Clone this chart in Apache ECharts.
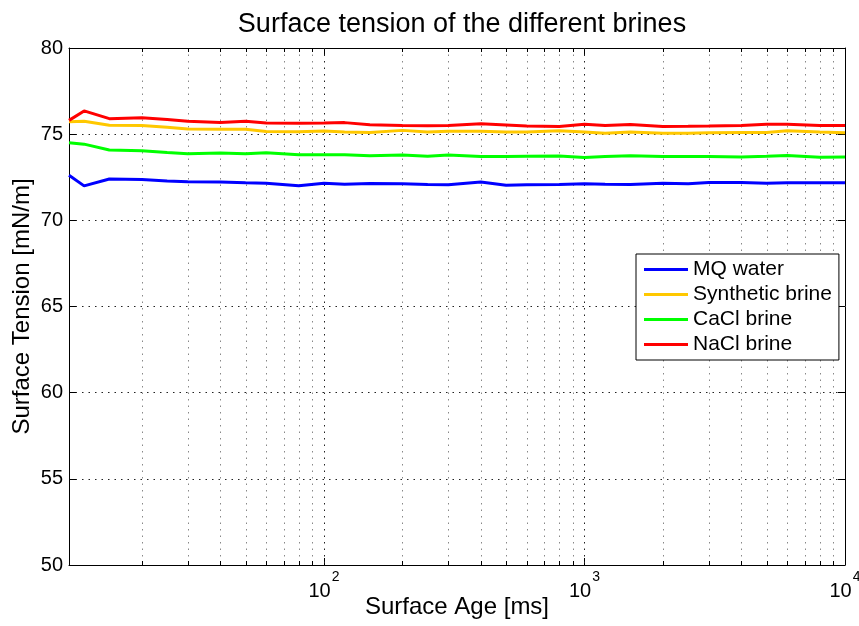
<!DOCTYPE html>
<html>
<head>
<meta charset="utf-8">
<script src="https://cdn.jsdelivr.net/npm/echarts@6/dist/echarts.min.js"></script>
<style>
html, body { margin: 0; padding: 0; background: #fff; }
#main { width: 859px; height: 626px; }
</style>
</head>
<body>
<div id="main"></div>
<script>
// surface age [ms]
var ages = [10.5, 12, 15, 20, 25, 30, 40, 50, 60, 80, 100, 120, 150, 200, 250, 300, 400, 500, 600, 800,
            1000, 1200, 1500, 2000, 2500, 3000, 4000, 5000, 6000, 8000, 10000];
// surface tension [mN/m]
var mqWater   = [72.62, 72.0, 72.4, 72.37, 72.28, 72.24, 72.22, 72.18, 72.15, 72.0, 72.15, 72.1, 72.14, 72.12, 72.08, 72.06,
                 72.22, 72.04, 72.06, 72.08, 72.12, 72.1, 72.08, 72.15, 72.12, 72.2, 72.2, 72.15, 72.18, 72.18, 72.18];
var synthetic = [75.72, 75.75, 75.52, 75.5, 75.4, 75.3, 75.28, 75.28, 75.15, 75.14, 75.18, 75.12, 75.1, 75.22, 75.12, 75.17,
                 75.17, 75.13, 75.13, 75.2, 75.12, 75.05, 75.12, 75.06, 75.06, 75.08, 75.1, 75.1, 75.2, 75.12, 75.08];
var cacl      = [74.5, 74.42, 74.08, 74.04, 73.93, 73.87, 73.9, 73.86, 73.92, 73.8, 73.8, 73.8, 73.75, 73.79, 73.72, 73.79,
                 73.7, 73.7, 73.72, 73.73, 73.65, 73.7, 73.75, 73.7, 73.7, 73.7, 73.68, 73.72, 73.76, 73.66, 73.68];
var nacl      = [75.8, 76.35, 75.9, 75.95, 75.85, 75.75, 75.68, 75.75, 75.65, 75.63, 75.65, 75.67, 75.55, 75.5, 75.49, 75.5,
                 75.6, 75.53, 75.47, 75.45, 75.58, 75.5, 75.56, 75.45, 75.46, 75.47, 75.5, 75.58, 75.58, 75.5, 75.5];

var seriesNames = ['MQ water', 'Synthetic brine', 'CaCl brine', 'NaCl brine'];
var seriesColors = ['#0000ff', '#ffc800', '#00ff00', '#ff0000'];
var seriesValues = [mqWater, synthetic, cacl, nacl];

// grid lines of the log axis (minor + decades)
var gridTicks = [20, 30, 40, 50, 60, 70, 80, 90, 100, 200, 300, 400, 500, 600, 700, 800, 900, 1000,
                 2000, 3000, 4000, 5000, 6000, 7000, 8000, 9000];

var fontName = 'Liberation Sans';
var myChart = echarts.init(document.getElementById('main'));

function pairs(vals) {
    return ages.map(function (a, i) { return [a, vals[i]]; });
}

function xLabel(v) {
    var e = Math.round(Math.log(v) / Math.LN10);
    return '{b|10}{s|' + e + '}';
}

var series = seriesNames.map(function (name, i) {
    return {
        name: name,
        type: 'line',
        data: pairs(seriesValues[i]),
        showSymbol: false,
        symbol: 'none',
        lineStyle: { width: 3, color: seriesColors[i] },
        itemStyle: { color: seriesColors[i] },
        z: 3
    };
});

series.unshift({
    type: 'custom',
    silent: true,
    z: 1,
    data: gridTicks.map(function (v) { return [v, 80]; }),
    encode: { x: 0, y: 1 },
    renderItem: function (params, api) {
        var v = api.value(0);
        var x = Math.round(api.coord([v, 80])[0]) + 0.5;
        var cs = params.coordSys;
        var yt = cs.y, yb = cs.y + cs.height;
        var decade = (v === 100 || v === 1000);
        var kids = [{
            type: 'line',
            shape: { x1: x, y1: yt, x2: x, y2: yb },
            style: { stroke: decade ? '#222' : '#888', lineWidth: 1, lineDash: [1.5, 5] }
        }];
        if (!decade) {
            kids.push({ type: 'line', shape: { x1: x, y1: yb, x2: x, y2: yb - 4 }, style: { stroke: '#000', lineWidth: 1 } });
            kids.push({ type: 'line', shape: { x1: x, y1: yt, x2: x, y2: yt + 4 }, style: { stroke: '#000', lineWidth: 1 } });
        }
        return { type: 'group', children: kids };
    }
});

var option = {
    backgroundColor: '#fff',
    animation: false,
    title: {
        text: 'Surface tension of the different brines',
        left: 457,
        textAlign: 'center',
        top: 6,
        textStyle: { fontFamily: fontName, fontSize: 27, fontWeight: 'normal', color: '#000' }
    },
    legend: {
        data: seriesNames,
        orient: 'vertical',
        left: 636,
        top: 254,
        icon: 'rect',
        itemWidth: 44,
        itemHeight: 3,
        itemGap: 4,
        padding: [5, 7, 5, 8],
        borderColor: '#000',
        borderWidth: 1,
        backgroundColor: '#fff',
        textStyle: { fontFamily: fontName, fontSize: 21, color: '#000', lineHeight: 21 }
    },
    grid: { left: 69, right: 14, top: 48, bottom: 61, containLabel: false, outerBoundsMode: 'none' },
    xAxis: [{
        type: 'log',
        logBase: 10,
        min: 10.5,
        max: 10000,
        name: 'Surface Age [ms]',
        nameLocation: 'middle',
        nameGap: 30,
        nameMoveOverlap: false,
        nameTextStyle: { fontFamily: fontName, fontSize: 24, color: '#000' },
        axisLine: { show: true, lineStyle: { color: '#000', width: 1 } },
        axisTick: { show: true, inside: true, length: 7, lineStyle: { color: '#000' } },
        axisLabel: {
            showMinLabel: false,
            margin: 5,
            formatter: xLabel,
            rich: {
                b: { fontFamily: fontName, fontSize: 20, lineHeight: 31, color: '#000', verticalAlign: 'bottom' },
                s: { fontFamily: fontName, fontSize: 14, lineHeight: 14, color: '#000', verticalAlign: 'top', padding: [0, 0, 0, 1] }
            }
        },
        splitLine: { show: false }
    }, {
        type: 'log',
        logBase: 10,
        min: 10.5,
        max: 10000,
        position: 'top',
        axisLine: { show: true, lineStyle: { color: '#000', width: 1 } },
        axisTick: { show: true, inside: true, length: 7, lineStyle: { color: '#000' } },
        axisLabel: { show: false },
        splitLine: { show: false }
    }],
    yAxis: [{
        type: 'value',
        min: 50,
        max: 80,
        interval: 5,
        name: 'Surface Tension [mN/m]',
        nameLocation: 'middle',
        nameGap: 35,
        nameMoveOverlap: false,
        nameTextStyle: { fontFamily: fontName, fontSize: 24, color: '#000' },
        axisLine: { show: true, lineStyle: { color: '#000', width: 1 } },
        axisTick: { show: true, inside: true, length: 7, lineStyle: { color: '#000' } },
        axisLabel: { fontFamily: fontName, fontSize: 20, color: '#000', margin: 6 },
        splitLine: { show: true, lineStyle: { color: '#222', width: 1, type: [1.5, 5] } }
    }, {
        type: 'value',
        min: 50,
        max: 80,
        interval: 5,
        position: 'right',
        axisLine: { show: true, lineStyle: { color: '#000', width: 1 } },
        axisTick: { show: true, inside: true, length: 7, lineStyle: { color: '#000' } },
        axisLabel: { show: false },
        splitLine: { show: false }
    }],
    series: series
};

myChart.setOption(option);
</script>
</body>
</html>
